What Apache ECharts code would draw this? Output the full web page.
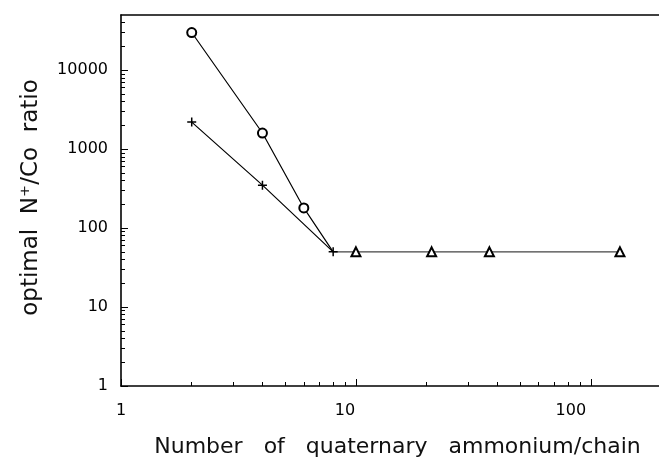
<!DOCTYPE html>
<html><head><meta charset="utf-8">
<script src="https://cdn.jsdelivr.net/npm/echarts@6/dist/echarts.min.js"></script>
<style>html,body{margin:0;padding:0;background:#fff}#c{width:659px;height:465px}</style>
</head><body><div id="c"></div>
<script>
// data
var xCircle = [2, 4, 6, 8];
var yCircle = [30000, 1600, 180, 50];
var xPlus = [2, 4, 8];
var yPlus = [2200, 350, 50];
var xTri = [8, 10, 21, 37, 133];
var yTri = [50, 50, 50, 50, 50];
var xMajor = [1, 10, 100];
var xMinor = [2,3,4,5,6,7,8,9,20,30,40,50,60,70,80,90];
var yMajor = [1, 10, 100, 1000, 10000];
var yMinor = [2,3,4,5,6,7,8,9,20,30,40,50,60,70,80,90,200,300,400,500,600,700,800,900,2000,3000,4000,5000,6000,7000,8000,9000,20000,30000,40000];

function pairs(xs, ys){ return xs.map(function(x,i){ return [x, ys[i]]; }); }

var FONT = 'DejaVu Sans';
var chart = echarts.init(document.getElementById('c'), null, {renderer:'canvas'});
var plusPath = 'path://M0,5L10,5M5,0L5,10';
var axisLineStyle = {color:'#000', width:1.6};
var XMAX = 195, YMAX = 50000;

chart.setOption({
  animation:false,
  backgroundColor:'#fff',
  grid:{left:121, top:15, right:0, height:371},
  xAxis:[
    {type:'log', logBase:10, min:1, max:XMAX, position:'bottom',
     axisLine:{show:true, lineStyle:axisLineStyle},
     axisTick:{show:true, inside:true, length:7, customValues:xMajor, lineStyle:{color:'#000', width:1}},
     splitLine:{show:false}, minorTick:{show:false},
     axisLabel:{customValues:xMajor, margin:17, color:'#000', fontFamily:FONT, fontSize:16,
       formatter:function(v){ return '{a' + String(v).length + '|' + v + '}'; },
       rich:{a1:{fontFamily:FONT,fontSize:16,color:'#000'},
             a2:{fontFamily:FONT,fontSize:16,color:'#000',padding:[0,22,0,0]},
             a3:{fontFamily:FONT,fontSize:16,color:'#000',padding:[0,40,0,0]}}},
     name:'Number   of   quaternary   ammonium/chain', nameLocation:'middle', nameGap:50,
     nameTextStyle:{fontFamily:FONT, fontSize:22, color:'#111', padding:[0,0,0,15]}},
    {type:'log', logBase:10, min:1, max:XMAX, position:'bottom',
     axisLine:{show:false},
     axisTick:{show:true, inside:true, length:4, customValues:xMinor, lineStyle:{color:'#000', width:1}},
     axisLabel:{show:false}, splitLine:{show:false}},
    {type:'log', logBase:10, min:1, max:XMAX, position:'top',
     axisLine:{show:true, lineStyle:axisLineStyle},
     axisTick:{show:false}, axisLabel:{show:false}, splitLine:{show:false}}
  ],
  yAxis:[
    {type:'log', logBase:10, min:1, max:YMAX, position:'left',
     axisLine:{show:true, lineStyle:axisLineStyle},
     axisTick:{show:true, inside:true, length:7, customValues:yMajor, lineStyle:{color:'#000', width:1}},
     splitLine:{show:false}, minorTick:{show:false},
     axisLabel:{customValues:yMajor, margin:13, color:'#000', fontFamily:FONT, fontSize:16,
       formatter:function(v){ return String(v); }},
     name:'optimal  N\u207A/Co  ratio', nameLocation:'middle', nameGap:78, nameRotate:90,
     nameTextStyle:{fontFamily:FONT, fontSize:23, color:'#111', padding:[0,0,0,6]}},
    {type:'log', logBase:10, min:1, max:YMAX, position:'left',
     axisLine:{show:false},
     axisTick:{show:true, inside:true, length:4, customValues:yMinor, lineStyle:{color:'#000', width:1}},
     axisLabel:{show:false}, splitLine:{show:false}}
  ],
  series:[
    {type:'line', xAxisIndex:0, yAxisIndex:0,
     symbol:'emptyCircle', symbolSize:9,
     lineStyle:{color:'#000', width:1.2},
     itemStyle:{color:'#000', borderColor:'#000', borderWidth:1.5},
     data:pairs(xCircle, yCircle).map(function(p,i){ return i===xCircle.length-1 ? {value:p, symbol:'none'} : p; })},
    {type:'line', xAxisIndex:0, yAxisIndex:0,
     symbol:plusPath, symbolSize:9,
     lineStyle:{color:'#000', width:1.2},
     itemStyle:{color:'#000', borderColor:'#000', borderWidth:1.5},
     data:pairs(xPlus, yPlus)},
    {type:'line', xAxisIndex:0, yAxisIndex:0,
     symbol:'emptyTriangle', symbolSize:9,
     lineStyle:{color:'#444', width:1.2},
     itemStyle:{color:'#000', borderColor:'#000', borderWidth:1.5},
     data:pairs(xTri, yTri).map(function(p,i){ return i===0 ? {value:p, symbol:'none'} : p; }),
     z:1}
  ]
});
</script></body></html>
